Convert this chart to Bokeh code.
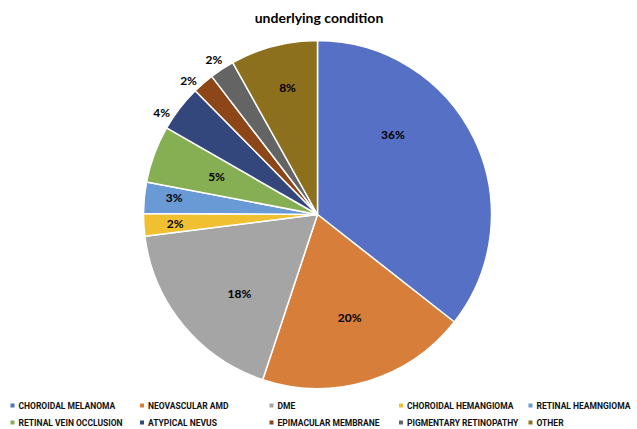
import math
from bokeh.plotting import figure
from bokeh.models import Range1d, ColumnDataSource
from bokeh.core.properties import value
from bokeh.embed import file_html
from bokeh.resources import INLINE

# Share of cases by underlying condition (percent)
conditions = [
    "CHOROIDAL MELANOMA", "NEOVASCULAR AMD", "DME", "CHOROIDAL HEMANGIOMA",
    "RETINAL HEAMNGIOMA", "RETINAL VEIN OCCLUSION", "ATYPICAL NEVUS",
    "EPIMACULAR MEMBRANE", "PIGMENTARY RETINOPATHY", "OTHER",
]
shares = [35.6, 19.5, 17.9, 2.1, 2.9, 5.3, 4.3, 2.0, 2.3, 8.1]

colors = ["#5570C4", "#D77E3A", "#A5A5A5", "#F0C030", "#6A9AD6",
          "#86AE52", "#33477C", "#8D4618", "#646464", "#8C701E"]

# label placement: radial fraction of the radius and angular nudge (deg)
label_radius = [0.63, 0.62, 0.64, 0.82, 0.83, 0.62, 1.07, 1.07, 1.07, 0.75]
label_nudge = [20.6, 0.6, 6, 0.2, -1.2, -0.3, 4.5, 2.8, 0.5, -1.3]

W, H = 637, 429
cx, cy, R = 317, H - 214, 174

p = figure(width=W, height=H, output_backend="svg", toolbar_location=None,
           x_range=Range1d(0, W), y_range=Range1d(0, H), min_border=0)
p.axis.visible = False
p.grid.visible = False
p.outline_line_color = None
p.background_fill_color = "white"
p.border_fill_color = "white"

total = sum(shares)
starts, ends, lx, ly, labels = [], [], [], [], []
cum = 0.0
for i, s in enumerate(shares):
    a0 = 90 - cum / total * 360
    a1 = 90 - (cum + s) / total * 360
    cum += s
    starts.append(math.radians(a1))
    ends.append(math.radians(a0))
    mid = (a0 + a1) / 2 + label_nudge[i]
    r = R * label_radius[i]
    lx.append(cx + r * math.cos(math.radians(mid)))
    ly.append(cy + r * math.sin(math.radians(mid)))
    labels.append(f"{round(s / total * 100)}%")

src = ColumnDataSource(dict(start=starts, end=ends, color=colors,
                            lx=lx, ly=ly, label=labels))
p.wedge(x=cx, y=cy, radius=R, start_angle="start", end_angle="end",
        fill_color="color", line_color="white", line_width=1.5, source=src)
p.text(x="lx", y="ly", text="label", source=src, text_font=value("Lato"),
       text_font_style="bold", text_font_size="12px", text_color="#000000",
       text_align="center", text_baseline="middle")

# title
p.text(x=[W / 2], y=[H - 17], text=["underlying condition"],
       text_font=value("Lato"), text_font_style="bold", text_font_size="14px",
       text_color="#000000", text_align="center", text_baseline="middle")

# legend laid out in two rows of five
gx, gy = [], []
for i in range(len(conditions)):
    col, row = i % 5, i // 5
    gx.append(12 + col * 129.5)
    gy.append(H - (405 + row * 17))
leg = ColumnDataSource(dict(x=gx, y=gy, tx=[x + 6 for x in gx],
                            name=conditions, color=colors))
p.scatter(x="x", y="y", marker="square", size=4, fill_color="color",
          line_color=None, source=leg)
p.text(x="tx", y="y", text="name", source=leg, text_font=value("Roboto"),
       text_font_style="bold", text_font_size="8.5px", text_color="#111111",
       text_align="left", text_baseline="middle")

open("out.html", "w").write(file_html(p, INLINE))
